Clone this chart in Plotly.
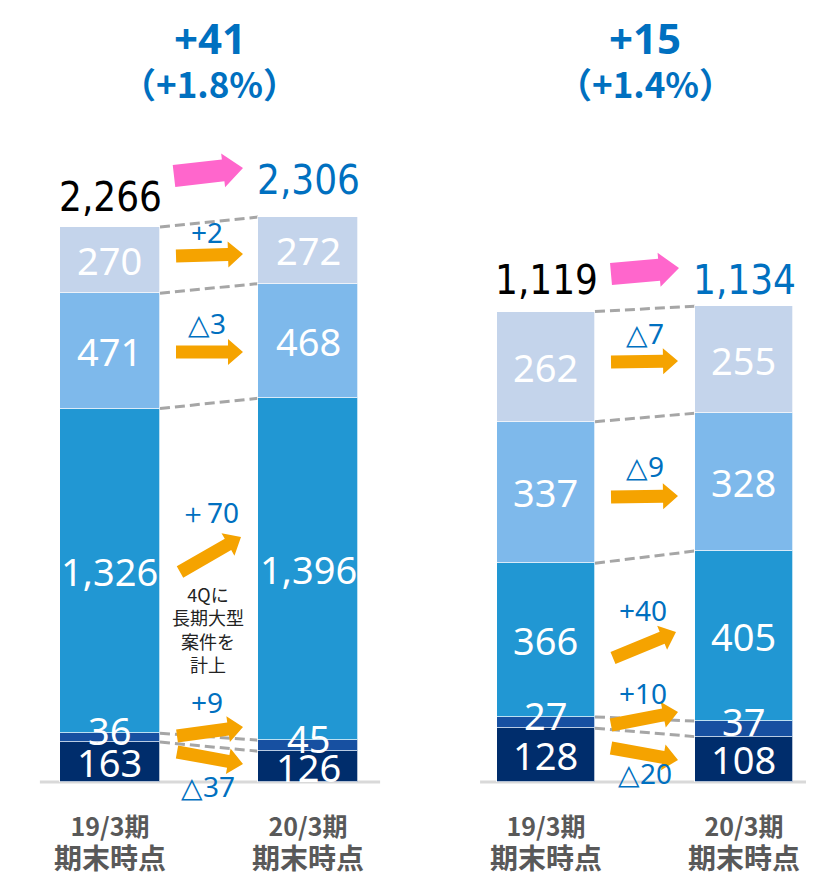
import math
import plotly.graph_objects as go

# ---------------- data ----------------
periods = ["19/3期", "20/3期"]
period_sub = "期末時点"

left_s1 = [163, 126]
left_s2 = [36, 45]
left_s3 = [1326, 1396]
left_s4 = [471, 468]
left_s5 = [270, 272]
left_totals = [2266, 2306]
left_change = "+41"
left_pct = "（+1.8%）"

right_s1 = [128, 108]
right_s2 = [27, 37]
right_s3 = [366, 405]
right_s4 = [337, 328]
right_s5 = [262, 255]
right_totals = [1119, 1134]
right_change = "+15"
right_pct = "（+1.4%）"

left_deltas = ["△37", "+9", "＋70", "△3", "+2"]
right_deltas = ["△20", "+10", "+40", "△9", "△7"]
note_text = "4Qに<br>長期大型<br>案件を<br>計上"

# ---------------- style ----------------
OFF = 8               # page body margin
W, H = 806, 867
colors = ["#002D6C", "#1750A1", "#2197D3", "#7EB9EB", "#C4D4EB"]
BLUE = "#0070C0"
ORANGE = "#F5A300"
PINK = "#FF66CC"
FONT = "Noto Sans"
CJK = "Noto Sans CJK JP"
NARROW = "DejaVu Sans Condensed, Liberation Sans Narrow, sans-serif"


def P(x, y):
    return (x - OFF) / W, 1 - (y - OFF) / H


def arrow_path(x0, y0, x1, y1, hw, hh, hl):
    dx, dy = x1 - x0, y1 - y0
    L = math.hypot(dx, dy)
    ux, uy = dx / L, dy / L
    nx, ny = -uy, ux
    bx, by = x1 - ux * hl, y1 - uy * hl
    pts = [
        (x0 + nx * hw, y0 + ny * hw),
        (bx + nx * hw, by + ny * hw),
        (bx + nx * hh, by + ny * hh),
        (x1, y1),
        (bx - nx * hh, by - ny * hh),
        (bx - nx * hw, by - ny * hw),
        (x0 - nx * hw, y0 - ny * hw),
    ]
    s = ""
    for i, (px, py) in enumerate(pts):
        X, Y = P(px, py)
        s += ("M" if i == 0 else "L") + f"{X:.5f},{Y:.5f} "
    return s + "Z"


def ann(x, y, text, size, color, family, xref="paper", yref="paper", yshift=0):
    return dict(xref=xref, yref=yref, x=x, y=y, text=text, showarrow=False,
                xanchor="center", yanchor="middle", yshift=yshift, borderpad=0,
                font=dict(family=family, size=size, color=color))


fig = go.Figure()
xs = [0, 1]
panels = [
    ("x", "y", [left_s1, left_s2, left_s3, left_s4, left_s5], 0.505),
    ("x2", "y2", [right_s1, right_s2, right_s3, right_s4, right_s5], 0.495),
]
shapes = []
annotations = []

for xa, ya, segs, bw in panels:
    for i, s in enumerate(segs):
        fig.add_trace(go.Bar(x=xs, y=s, xaxis=xa, yaxis=ya, width=bw,
                             marker=dict(color=colors[i],
                                         line=dict(color="rgba(255,255,255,0.7)", width=1)),
                             showlegend=False, hoverinfo="skip"))
    cum = [[0, 0]]
    for s in segs:
        cum.append([cum[-1][0] + s[0], cum[-1][1] + s[1]])
    for k in range(1, len(cum)):
        shapes.append(dict(type="line", xref=xa, yref=ya,
                           x0=0 + bw / 2, x1=1 - bw / 2,
                           y0=cum[k][0], y1=cum[k][1],
                           line=dict(color="#A6A6A6", width=3, dash="10px,5px"),
                           layer="below"))
    for i, s in enumerate(segs):
        for j in range(2):
            mid = cum[i][j] + s[j] / 2
            annotations.append(ann(xs[j], mid, f"{s[j]:,}", 38, "white", FONT,
                                   xref=xa, yref=ya, yshift=8 if s[j] < 50 else 0))
    for j in range(2):
        txt = (f"<b>{periods[j]}</b><br>"
               f"<b><span style='font-size:28px'>{period_sub}</span></b>")
        annotations.append(ann(xs[j], P(0, 842)[1], txt, 25, "#595959", CJK, xref=xa))

# baselines
shapes.append(dict(type="line", xref="x", yref="y", x0=-0.354, x1=1.364, y0=0, y1=0,
                   line=dict(color="#D9D9D9", width=3), layer="below"))
shapes.append(dict(type="line", xref="x2", yref="y2", x0=-0.333, x1=1.354, y0=0, y1=0,
                   line=dict(color="#D9D9D9", width=3), layer="below"))

# headline changes
for cx, ch, pc in [(210, left_change, left_pct), (645, right_change, right_pct)]:
    x, y = P(cx, 37)
    annotations.append(ann(x, y, f"<b>{ch}</b>", 42, BLUE, FONT))
    x, y = P(cx, 82)
    annotations.append(ann(x, y, f"<b>{pc}</b>", 35, BLUE, CJK))

# totals
tot_pos = [(110, 197, left_totals[0], "black"), (308, 180, left_totals[1], BLUE),
           (546, 280, right_totals[0], "black"), (744, 280, right_totals[1], BLUE)]
for cx, cy, v, c in tot_pos:
    x, y = P(cx, cy)
    annotations.append(ann(x, y, f"{v:,}", 40, c, NARROW))

# pink arrows
shapes.append(dict(type="path", xref="paper", yref="paper",
                   path=arrow_path(174, 176, 243, 168, 11, 17, 20),
                   fillcolor=PINK, line=dict(width=0)))
shapes.append(dict(type="path", xref="paper", yref="paper",
                   path=arrow_path(611, 274, 679, 268, 11, 17, 20),
                   fillcolor=PINK, line=dict(width=0)))

# orange arrows
orange = [
    (176, 256, 243, 254), (176, 352, 243, 352), (180, 572, 241, 537),
    (177, 736, 243, 727), (177, 752, 243, 764),
    (611, 362, 678, 361), (611, 497, 678, 496), (613, 658, 676, 632),
    (611, 725, 678, 712), (611, 748, 678, 760),
]
for x0, y0, x1, y1 in orange:
    shapes.append(dict(type="path", xref="paper", yref="paper",
                       path=arrow_path(x0, y0, x1, y1, 6.5, 13, 15),
                       fillcolor=ORANGE, line=dict(width=0)))

# delta labels
delta_pos_left = [(208, 786), (207, 702), (209, 512), (207, 323), (207, 232)]
delta_pos_right = [(645, 773), (643, 693), (643, 610), (645, 466), (645, 333)]
for (cx, cy), t in zip(delta_pos_left + delta_pos_right, left_deltas + right_deltas):
    x, y = P(cx, cy)
    annotations.append(ann(x, y, t, 28, BLUE, FONT))

# note
x, y = P(208, 629)
annotations.append(ann(x, y, note_text, 18, "#222222", CJK))

fig.update_layout(
    width=W, height=H, barmode="stack", bargap=0,
    margin=dict(l=0, r=0, t=0, b=0),
    paper_bgcolor="white", plot_bgcolor="white",
    xaxis=dict(domain=[0, 0.5], range=[-0.515, 1.520], visible=False),
    yaxis=dict(domain=[0, 1], range=[-379.7, 3160.5], visible=False),
    xaxis2=dict(domain=[0.5, 1], range=[-0.682, 1.354], visible=False, anchor="y2"),
    yaxis2=dict(domain=[0, 1], range=[-221.4, 1842.9], visible=False, anchor="x2"),
    shapes=shapes, annotations=annotations,
)

fig.write_html("out.html")
